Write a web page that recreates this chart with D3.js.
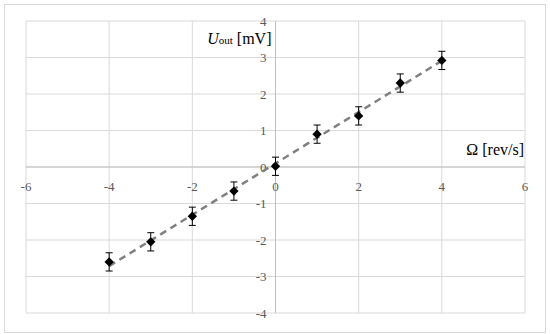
<!DOCTYPE html>
<html>
<head>
<meta charset="utf-8">
<script src="https://cdn.jsdelivr.net/npm/d3@7"></script>
<style>
  body { margin: 0; background: #fff; }
</style>
</head>
<body>
<div id="chart"></div>
<script>
// data
const omega = [-4, -3, -2, -1, 0, 1, 2, 3, 4];
const uOut = [-2.6, -2.05, -1.35, -0.66, 0.02, 0.9, 1.4, 2.3, 2.92];
const uErr = [0.25, 0.25, 0.25, 0.25, 0.25, 0.25, 0.25, 0.25, 0.25];
const xTicks = [-6, -4, -2, 0, 2, 4, 6];
const yTicks = [-4, -3, -2, -1, 0, 1, 2, 3, 4];

const serif = "'Liberation Serif', 'DejaVu Serif', 'Times New Roman', serif";
const width = 550, height = 334;
const margin = {left: 26, right: 25, top: 21, bottom: 21};

const svg = d3.select('#chart').append('svg')
    .attr('width', width)
    .attr('height', height)
    .attr('font-family', serif);

// outer frame
svg.append('rect')
    .attr('x', 4.5).attr('y', 4.5)
    .attr('width', 541).attr('height', 328)
    .attr('fill', 'none')
    .attr('stroke', '#d9d9d9');

const x = d3.scaleLinear().domain([-6, 6]).range([margin.left, width - margin.right]);
const y = d3.scaleLinear().domain([-4, 4]).range([height - margin.bottom, margin.top]);

// grid
const grid = svg.append('g').attr('class', 'grid');
grid.selectAll('line.v').data(xTicks).enter()
    .append('line')
    .attr('x1', d => x(d)).attr('x2', d => x(d))
    .attr('y1', y(-4)).attr('y2', y(4))
    .attr('stroke', '#d9d9d9').attr('stroke-width', 1);
grid.selectAll('line.h').data(yTicks).enter()
    .append('line')
    .attr('x1', x(-6)).attr('x2', x(6))
    .attr('y1', d => y(d)).attr('y2', d => y(d))
    .attr('stroke', '#d9d9d9').attr('stroke-width', 1);

// axes through zero
svg.append('line')
    .attr('x1', x(-6)).attr('x2', x(6))
    .attr('y1', y(0)).attr('y2', y(0))
    .attr('stroke', '#bfbfbf').attr('stroke-width', 1);
svg.append('line')
    .attr('x1', x(0)).attr('x2', x(0))
    .attr('y1', y(-4)).attr('y2', y(4))
    .attr('stroke', '#bfbfbf').attr('stroke-width', 1);

// tick labels
svg.append('g').selectAll('text').data(xTicks).enter()
    .append('text')
    .attr('x', d => x(d))
    .attr('y', y(0) + 24)
    .attr('text-anchor', 'middle')
    .attr('font-family', serif)
    .attr('font-size', 13)
    .attr('fill', '#595959')
    .text(d => d);

svg.append('g').selectAll('text').data(yTicks).enter()
    .append('text')
    .attr('x', x(0) - 9)
    .attr('y', d => y(d) + 4.5)
    .attr('text-anchor', 'end')
    .attr('font-family', serif)
    .attr('font-size', 13)
    .attr('fill', '#595959')
    .text(d => d);

// linear trendline (least squares over the points)
const mx = d3.mean(omega), my = d3.mean(uOut);
const slope = d3.sum(omega, (d, i) => (d - mx) * (uOut[i] - my)) / d3.sum(omega, d => (d - mx) * (d - mx));
const icpt = my - slope * mx;
const ends = d3.extent(omega);
svg.append('line')
    .attr('x1', x(ends[0])).attr('y1', y(icpt + slope * ends[0]))
    .attr('x2', x(ends[1])).attr('y2', y(icpt + slope * ends[1]))
    .attr('stroke', '#808080')
    .attr('stroke-width', 2.5)
    .attr('stroke-dasharray', '7,5');

// error bars
const pts = omega.map((d, i) => ({x: d, y: uOut[i], e: uErr[i]}));
const err = svg.append('g').attr('stroke', '#000').attr('stroke-width', 1);
err.selectAll('line.bar').data(pts).enter()
    .append('line')
    .attr('x1', d => x(d.x)).attr('x2', d => x(d.x))
    .attr('y1', d => y(d.y - d.e)).attr('y2', d => y(d.y + d.e));
err.selectAll('line.top').data(pts).enter()
    .append('line')
    .attr('x1', d => x(d.x) - 3.5).attr('x2', d => x(d.x) + 3.5)
    .attr('y1', d => y(d.y + d.e)).attr('y2', d => y(d.y + d.e));
err.selectAll('line.bot').data(pts).enter()
    .append('line')
    .attr('x1', d => x(d.x) - 3.5).attr('x2', d => x(d.x) + 3.5)
    .attr('y1', d => y(d.y - d.e)).attr('y2', d => y(d.y - d.e));

// diamond markers
svg.append('g').selectAll('path').data(pts).enter()
    .append('path')
    .attr('d', d3.symbol().type(d3.symbolSquare).size(44))
    .attr('transform', d => `translate(${x(d.x)},${y(d.y)}) rotate(45)`)
    .attr('fill', '#000');

// axis titles
const yt = svg.append('text')
    .attr('x', x(0) - 4)
    .attr('y', 44)
    .attr('text-anchor', 'end')
    .attr('font-family', serif)
    .attr('font-size', 16)
    .attr('fill', '#000');
yt.append('tspan').attr('font-style', 'italic').text('U');
yt.append('tspan').attr('font-size', 11).text('out');
yt.append('tspan').text(' [mV]');

svg.append('text')
    .attr('x', x(6) - 1)
    .attr('y', 155)
    .attr('text-anchor', 'end')
    .attr('font-family', serif)
    .attr('font-size', 16)
    .attr('fill', '#000')
    .text('Ω [rev/s]');
</script>
</body>
</html>
